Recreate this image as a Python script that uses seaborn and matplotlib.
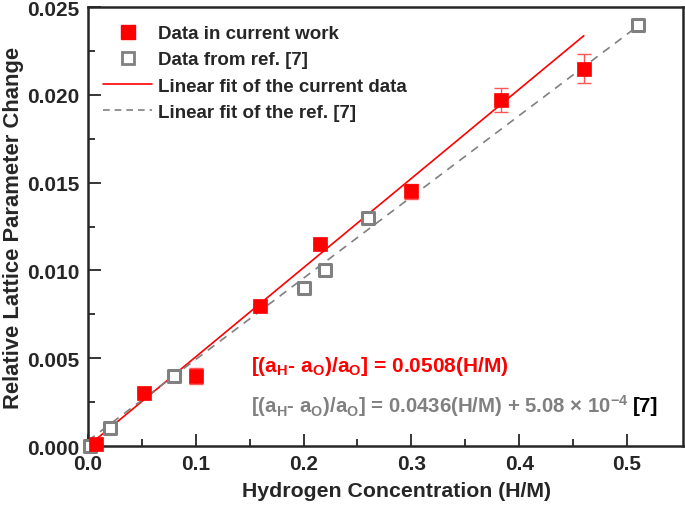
import numpy as np
import pandas as pd
import matplotlib
matplotlib.use("Agg")
import matplotlib.pyplot as plt
import seaborn as sns
from matplotlib.lines import Line2D
from matplotlib import font_manager

# Data
cur_x = [0.007, 0.052, 0.100, 0.160, 0.215, 0.300, 0.383, 0.460]
cur_y = [0.0001, 0.0030, 0.0040, 0.0080, 0.0115, 0.0145, 0.0197, 0.0215]
cur_err = [0.0, 0.0, 0.00045, 0.0001, 0.0, 0.00045, 0.0007, 0.0008]

ref_x = [0.002, 0.020, 0.080, 0.200, 0.220, 0.260, 0.510]
ref_y = [0.0000, 0.0010, 0.0040, 0.0090, 0.0100, 0.0130, 0.0240]

# linear fits (as drawn)
cur_slope, cur_icpt = 0.0508, 0.0
cur_fit_x = [0.0, 0.46]
ref_slope, ref_icpt = 0.0463, 0.0003
ref_fit_x = [0.0, 0.51]

names = {f.name for f in font_manager.fontManager.ttflist}
narrow = "Liberation Sans Narrow" if "Liberation Sans Narrow" in names else "Liberation Sans"

sns.set_style("ticks")
plt.rcParams["font.family"] = ["Liberation Sans", "DejaVu Sans"]
plt.rcParams["font.weight"] = "bold"
plt.rcParams["mathtext.fontset"] = "custom"
plt.rcParams["mathtext.rm"] = "Liberation Sans:bold"
plt.rcParams["mathtext.it"] = "Liberation Sans:bold"
plt.rcParams["mathtext.bf"] = "Liberation Sans:bold"

fig = plt.figure(figsize=(6.85, 5.06), dpi=100)
ax = fig.add_axes([0.1285, 0.1166, 0.8685, 0.8674])

red = "#ff0000"
gray = "#808080"

cur = pd.DataFrame({"x": cur_x, "y": cur_y})
ref = pd.DataFrame({"x": ref_x, "y": ref_y})
fit_c = pd.DataFrame({"x": cur_fit_x, "y": [cur_slope * v + cur_icpt for v in cur_fit_x]})
fit_r = pd.DataFrame({"x": ref_fit_x, "y": [ref_slope * v + ref_icpt for v in ref_fit_x]})

sns.lineplot(data=fit_c, x="x", y="y", color=red, lw=1.2, ax=ax, zorder=2)
sns.lineplot(data=fit_r, x="x", y="y", color=gray, lw=1.2, ax=ax, zorder=2)
ax.lines[-1].set_dashes([5, 4])

ax.errorbar(cur_x, cur_y, yerr=cur_err, fmt="none", ecolor="#ff5555",
            elinewidth=1, capsize=5, capthick=1, zorder=3)
sns.scatterplot(data=ref, x="x", y="y", marker="s", s=80, facecolor="white",
                edgecolor=gray, linewidth=2.2, ax=ax, zorder=4, clip_on=False)
sns.scatterplot(data=cur, x="x", y="y", marker="s", s=110, color=red,
                edgecolor=red, linewidth=0.5, ax=ax, zorder=5, clip_on=False)

ax.set_xlim(0, 0.552)
ax.set_ylim(0, 0.025)
ax.set_xticks(np.arange(0, 0.51, 0.1))
ax.set_yticks(np.arange(0, 0.0251, 0.005))
ax.set_xticks(np.arange(0.05, 0.55, 0.1), minor=True)
ax.set_yticks(np.arange(0.0025, 0.025, 0.005), minor=True)
ax.set_xticklabels([f"{v:.1f}" for v in np.arange(0, 0.51, 0.1)])
ax.set_yticklabels([f"{v:.3f}" for v in np.arange(0, 0.0251, 0.005)])
ax.tick_params(which="major", direction="in", length=9, width=1.3, pad=6)
ax.tick_params(which="minor", direction="in", length=5, width=1.3)
for lab in ax.get_xticklabels() + ax.get_yticklabels():
    lab.set_fontfamily(narrow)
    lab.set_fontsize(15)
    lab.set_fontweight("bold")
for sp in ax.spines.values():
    sp.set_linewidth(1.8)
    sp.set_visible(True)

ax.set_xlabel("Hydrogen Concentration (H/M)", fontsize=15.3, fontweight="bold")
ax.set_ylabel("Relative Lattice Parameter Change", fontsize=15.8, fontweight="bold")
ax.xaxis.set_label_coords(0.518, -0.08)
ax.yaxis.set_label_coords(-0.108, 0.498)

handles = [
    Line2D([], [], marker="s", ls="none", color=red, markersize=10),
    Line2D([], [], marker="s", ls="none", mfc="white", mec=gray, mew=2, markersize=8),
    Line2D([], [], color=red, lw=1.2),
    Line2D([], [], color=gray, lw=1.2, dashes=[4, 3]),
]
labels = ["Data in current work", "Data from ref. [7]",
          "Linear fit of the current data", "Linear fit of the ref. [7]"]
ax.legend(handles, labels, loc="upper left", bbox_to_anchor=(0.012, 0.976),
          frameon=False, handlelength=2.65, handletextpad=0.3,
          labelspacing=0.48, borderaxespad=0.0, prop={"weight": "bold", "size": 13.5})

ax.text(0.151, 0.0046, r"[(a$_\mathrm{H}$- a$_\mathrm{O}$)/a$_\mathrm{O}$] = 0.0508(H/M)",
        color=red, fontsize=15, fontweight="bold", va="center")
t = ax.text(0.151, 0.00233,
            r"[(a$_\mathrm{H}$- a$_\mathrm{O}$)/a$_\mathrm{O}$] = 0.0436(H/M) + 5.08 $\times$ 10$^{-4}$",
            color=gray, fontsize=14.7, fontweight="bold", va="center")
fig.canvas.draw()
bb = t.get_window_extent().transformed(ax.transData.inverted())
ax.text(bb.x1 + 0.004, 0.00233, "[7]", color="black", fontsize=15,
        fontweight="bold", va="center")

fig.savefig("out.png", dpi=100)
